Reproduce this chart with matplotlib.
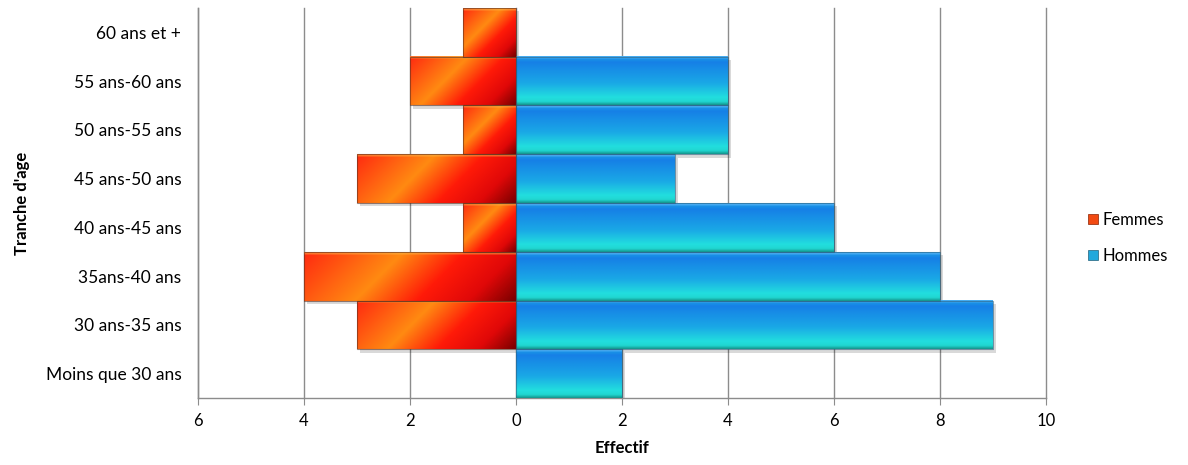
import numpy as np
import matplotlib
matplotlib.use('Agg')
import matplotlib.pyplot as plt
from matplotlib.colors import LinearSegmentedColormap
from matplotlib.patches import Patch, Rectangle

categories = ['Moins que 30 ans', '30 ans-35 ans', '35ans-40 ans', '40 ans-45 ans',
              '45 ans-50 ans', '50 ans-55 ans', '55 ans-60 ans', '60 ans et +']
femmes = [0, 3, 4, 1, 3, 1, 2, 1]
hommes = [2, 9, 8, 6, 3, 4, 4, 0]
xticks = [-6, -4, -2, 0, 2, 4, 6, 8, 10]
xticklabels = ['6', '4', '2', '0', '2', '4', '6', '8', '10']

plt.rcParams['font.family'] = ['Lato', 'DejaVu Sans']

red_cmap = LinearSegmentedColormap.from_list(
    'red', [(0.0, '#ff2a10'), (0.38, '#ff8a12'), (0.62, '#ff1a08'), (0.82, '#e00808'), (1.0, '#7a0000')])
blue_cmap = LinearSegmentedColormap.from_list(
    'blue', [(0.0, '#1c9ee8'), (0.12, '#1680e6'), (0.55, '#1aa8e6'), (0.85, '#22dede'), (0.94, '#20d6d0'), (1.0, '#159a90')])

fig = plt.figure(figsize=(11.88, 4.65), dpi=100)
ax = fig.add_axes([0.1667, 0.144, 0.7138, 0.839])

h = 1.0
ny, nx = 60, 300


def draw_bar(x0, x1, yc, kind):
    if x1 - x0 <= 0:
        return
    y0, y1 = yc - h / 2, yc + h / 2
    # drop shadow
    ax.add_patch(Rectangle((x0 + 0.05, y0 - 0.07), x1 - x0, h, facecolor='#000000',
                           alpha=0.15, edgecolor='none', zorder=2))
    u = np.linspace(0, 1, nx)[None, :]
    v = np.linspace(1, 0, ny)[:, None]  # 1 at top
    if kind == 'f':
        width_px = (x1 - x0) * 53.0
        k = 48.0 / width_px
        t = np.clip((u - k * v + k) / (1 + k), 0, 1)
        img = red_cmap(t)
        img[:3, :, :3] = img[:3, :, :3] * 0.5 + 0.5 * np.array([1.0, 0.75, 0.3])
    else:
        t = np.repeat(1 - v, nx, axis=1)
        img = blue_cmap(t)
        img[:3, :, :3] = img[:3, :, :3] * 0.5 + 0.5 * np.array([0.45, 0.75, 1.0])
    ax.imshow(img, extent=(x0, x1, y0, y1), aspect='auto', zorder=3, interpolation='bilinear')
    ax.add_patch(Rectangle((x0, y0), x1 - x0, h, facecolor='none',
                           edgecolor='#5a3020' if kind == 'f' else '#2a6080',
                           linewidth=0.8, alpha=0.6, zorder=4))


for i, (f, m) in enumerate(zip(femmes, hommes)):
    draw_bar(-f, 0, i, 'f')
    draw_bar(0, m, i, 'h')

ax.set_xlim(-6, 10)
ax.set_ylim(-0.5, len(categories) - 0.5)
ax.set_xticks(xticks)
ax.set_xticklabels(xticklabels, fontsize=12)
ax.set_yticks(range(len(categories)))
ax.set_yticklabels(categories, fontsize=12.5)
ax.tick_params(axis='y', length=0, pad=12)
ax.tick_params(axis='x', length=5, color='#8c8c8c', pad=6)
ax.grid(axis='x', color='#8c8c8c', linewidth=1.0, zorder=0)
for gl in ax.get_xgridlines():
    gl.set_clip_on(False)
ax.set_axisbelow(True)
for s in ['top', 'right']:
    ax.spines[s].set_visible(False)
for s in ['left', 'bottom']:
    ax.spines[s].set_color('#8c8c8c')
    ax.spines[s].set_linewidth(1.0)

ax.set_xlabel('Effectif', fontsize=12, fontweight='bold', labelpad=8)
ax.set_ylabel("Tranche d'age", fontsize=12, fontweight='bold', labelpad=11)

handles = [Patch(facecolor='#f24a12', edgecolor='#8a2000', linewidth=0.5),
           Patch(facecolor='#22a8dc', edgecolor='#20607a', linewidth=0.5)]
fig.legend(handles, ['Femmes', 'Hommes'], loc='center left', bbox_to_anchor=(0.903, 0.488),
           frameon=False, fontsize=12, handlelength=0.6, handleheight=0.6,
           handletextpad=0.3, labelspacing=1.2)

fig.savefig('out.png', dpi=100)
